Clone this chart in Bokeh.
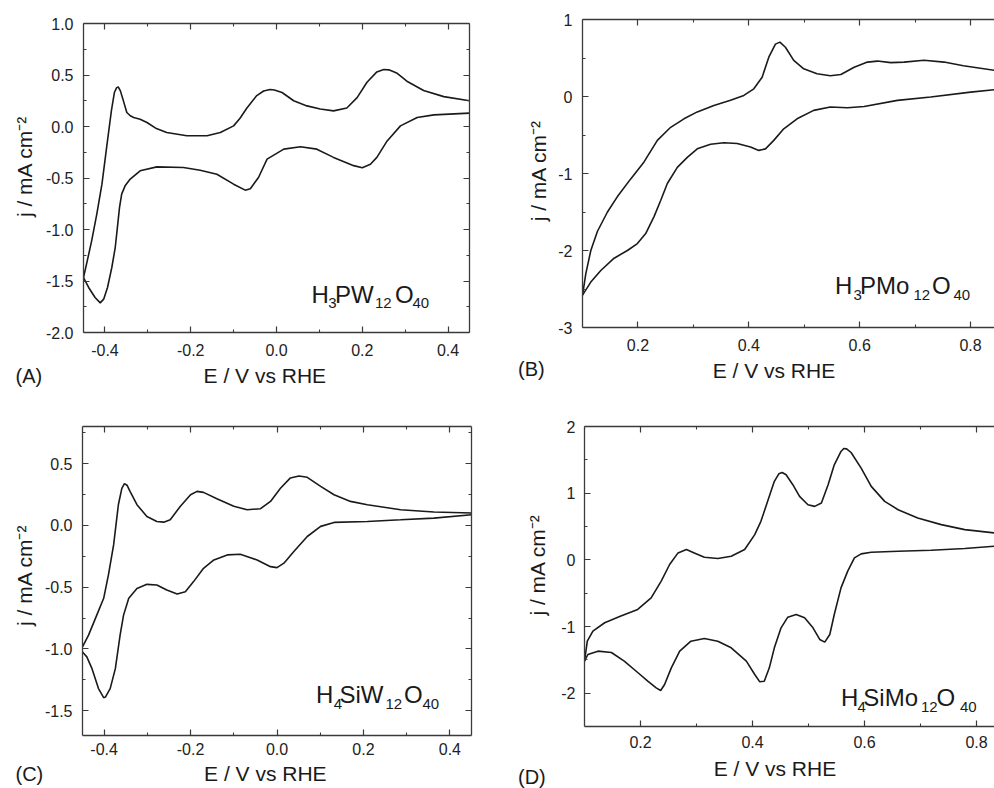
import numpy as np
from bokeh.plotting import figure
from bokeh.models import Label, LinearAxis, FixedTicker, Range1d, Title
from bokeh.layouts import row, column
from bokeh.embed import file_html
from bokeh.resources import INLINE

# ---------------- data ----------------
# (A) H3PW12O40
a_up_E = [-0.450, -0.441, -0.431, -0.419, -0.407, -0.396, -0.385, -0.378, -0.373, -0.369, -0.364,
          -0.357, -0.349, -0.341, -0.333, -0.318, -0.302, -0.280, -0.256, -0.209, -0.162, -0.131,
          -0.100, -0.085, -0.069, -0.046, -0.030, -0.015, -0.005, 0.013, 0.040, 0.071, 0.102,
          0.133, 0.164, 0.188, 0.211, 0.234, 0.250, 0.262, 0.280, 0.304, 0.343, 0.390, 0.450]
a_up_j = [-1.466, -1.30, -1.11, -0.85, -0.56, -0.20, 0.152, 0.33, 0.375, 0.385, 0.346,
          0.249, 0.136, 0.104, 0.087, 0.071, 0.039, -0.02, -0.058, -0.09, -0.09, -0.058,
          0.006, 0.08, 0.18, 0.30, 0.345, 0.36, 0.355, 0.33, 0.25, 0.20, 0.17,
          0.152, 0.18, 0.28, 0.43, 0.53, 0.553, 0.55, 0.52, 0.44, 0.35, 0.29, 0.25]
a_dn_E = [0.450, 0.367, 0.328, 0.289, 0.258, 0.234, 0.219, 0.200, 0.180, 0.133, 0.094, 0.056,
          0.017, -0.022, -0.042, -0.061, -0.073, -0.100, -0.139, -0.178, -0.217, -0.279, -0.318,
          -0.341, -0.353, -0.361, -0.366, -0.371, -0.376, -0.384, -0.394, -0.403, -0.411, -0.423,
          -0.438, -0.450]
a_dn_j = [0.13, 0.113, 0.087, 0.006, -0.14, -0.30, -0.366, -0.40, -0.38, -0.30, -0.22, -0.197,
          -0.22, -0.317, -0.495, -0.605, -0.618, -0.56, -0.463, -0.424, -0.398, -0.392, -0.43,
          -0.51, -0.576, -0.657, -0.786, -0.981, -1.175, -1.369, -1.563, -1.676, -1.712, -1.66,
          -1.563, -1.466]

# (B) H3PMo12O40
b_up_E = [0.100, 0.106, 0.115, 0.127, 0.145, 0.163, 0.187, 0.211, 0.235, 0.259, 0.283, 0.307,
          0.337, 0.367, 0.391, 0.409, 0.424, 0.436, 0.448, 0.456, 0.466, 0.481, 0.499, 0.523,
          0.547, 0.566, 0.590, 0.614, 0.632, 0.656, 0.680, 0.716, 0.752, 0.787, 0.843]
b_up_j = [-2.58, -2.30, -2.00, -1.75, -1.50, -1.30, -1.07, -0.85, -0.57, -0.40, -0.29, -0.20,
          -0.116, -0.05, 0.014, 0.10, 0.25, 0.51, 0.68, 0.706, 0.64, 0.47, 0.36, 0.295,
          0.27, 0.286, 0.38, 0.447, 0.46, 0.44, 0.447, 0.47, 0.447, 0.40, 0.34]
b_dn_E = [0.843, 0.800, 0.728, 0.668, 0.608, 0.578, 0.547, 0.517, 0.487, 0.463, 0.445, 0.430,
          0.418, 0.403, 0.379, 0.355, 0.331, 0.307, 0.289, 0.271, 0.253, 0.241, 0.229, 0.214,
          0.199, 0.181, 0.157, 0.133, 0.115, 0.100]
b_dn_j = [0.088, 0.057, -0.007, -0.05, -0.13, -0.146, -0.137, -0.18, -0.29, -0.42, -0.57, -0.68,
          -0.70, -0.656, -0.61, -0.60, -0.62, -0.68, -0.79, -0.92, -1.13, -1.35, -1.56, -1.78,
          -1.91, -2.00, -2.10, -2.26, -2.41, -2.58]

# (C) H4SiW12O40
c_up_E = [-0.450, -0.436, -0.417, -0.401, -0.390, -0.378, -0.367, -0.359, -0.353, -0.347, -0.340,
          -0.324, -0.301, -0.278, -0.262, -0.247, -0.224, -0.200, -0.185, -0.170, -0.139, -0.100,
          -0.069, -0.038, -0.015, 0.008, 0.031, 0.051, 0.070, 0.101, 0.132, 0.170, 0.209, 0.286,
          0.363, 0.450]
c_up_j = [-0.983, -0.888, -0.726, -0.59, -0.40, -0.158, 0.167, 0.30, 0.338, 0.325, 0.275,
          0.167, 0.072, 0.032, 0.026, 0.045, 0.153, 0.248, 0.275, 0.267, 0.216, 0.154,
          0.127, 0.135, 0.194, 0.30, 0.384, 0.40, 0.389, 0.316, 0.248, 0.194, 0.167, 0.127,
          0.108, 0.10]
c_dn_E = [0.450, 0.363, 0.286, 0.209, 0.132, 0.101, 0.070, 0.039, 0.016, 0.000, -0.015, -0.046,
          -0.085, -0.115, -0.146, -0.170, -0.193, -0.212, -0.231, -0.255, -0.278, -0.301, -0.324,
          -0.343, -0.355, -0.363, -0.374, -0.386, -0.397, -0.401, -0.413, -0.428, -0.440, -0.450]
c_dn_j = [0.086, 0.059, 0.045, 0.032, 0.024, -0.008, -0.09, -0.212, -0.306, -0.342, -0.334, -0.28,
          -0.233, -0.239, -0.28, -0.347, -0.455, -0.537, -0.555, -0.523, -0.482, -0.477, -0.51,
          -0.59, -0.726, -0.888, -1.159, -1.321, -1.389, -1.394, -1.32, -1.159, -1.064, -1.024]

# (D) H4SiMo12O40
d_up_E = [0.100, 0.105, 0.115, 0.136, 0.165, 0.195, 0.219, 0.237, 0.252, 0.267, 0.282, 0.296,
          0.314, 0.338, 0.362, 0.386, 0.404, 0.415, 0.427, 0.439, 0.447, 0.453, 0.460, 0.472,
          0.484, 0.499, 0.511, 0.523, 0.535, 0.546, 0.558, 0.563, 0.568, 0.576, 0.594, 0.612,
          0.636, 0.660, 0.695, 0.737, 0.779, 0.832]
d_up_j = [-1.52, -1.22, -1.07, -0.944, -0.844, -0.744, -0.57, -0.32, -0.07, 0.104, 0.154, 0.104,
          0.039, 0.019, 0.054, 0.154, 0.378, 0.578, 0.877, 1.177, 1.29, 1.31, 1.276, 1.127,
          0.952, 0.827, 0.802, 0.852, 1.127, 1.426, 1.626, 1.67, 1.665, 1.61, 1.376, 1.102,
          0.877, 0.752, 0.628, 0.528, 0.453, 0.403]
d_dn_E = [0.832, 0.779, 0.719, 0.660, 0.612, 0.594, 0.582, 0.570, 0.558, 0.546, 0.538, 0.529,
          0.520, 0.508, 0.493, 0.478, 0.463, 0.451, 0.439, 0.430, 0.421, 0.413, 0.404, 0.389,
          0.362, 0.338, 0.314, 0.290, 0.270, 0.255, 0.243, 0.236, 0.228, 0.213, 0.195, 0.171,
          0.148, 0.124, 0.106, 0.100]
d_dn_j = [0.204, 0.169, 0.144, 0.129, 0.114, 0.089, 0.029, -0.17, -0.42, -0.82, -1.12, -1.234,
          -1.194, -1.02, -0.87, -0.82, -0.86, -1.02, -1.32, -1.62, -1.82, -1.83, -1.72, -1.52,
          -1.32, -1.22, -1.18, -1.22, -1.37, -1.62, -1.87, -1.96, -1.92, -1.82, -1.69, -1.52,
          -1.39, -1.37, -1.42, -1.52]

# tick values and labels
w_x_ticks = [-0.4, -0.2, 0.0, 0.2, 0.4]
w_x_minor = [-0.3, -0.1, 0.1, 0.3]
w_x_labels = ["-0.4", "-0.2", "0.0", "0.2", "0.4"]
mo_x_ticks = [0.2, 0.4, 0.6, 0.8]
mo_x_minor = [0.3, 0.5, 0.7]
mo_x_labels = ["0.2", "0.4", "0.6", "0.8"]
a_y_ticks = [-2.0, -1.5, -1.0, -0.5, 0.0, 0.5, 1.0]
a_y_minor = [-1.75, -1.25, -0.75, -0.25, 0.25, 0.75]
a_y_labels = ["-2.0", "-1.5", "-1.0", "-0.5", "0.0", "0.5", "1.0"]
b_y_ticks = [-3, -2, -1, 0, 1]
b_y_minor = [-2.5, -1.5, -0.5, 0.5]
b_y_labels = ["-3", "-2", "-1", "0", "1"]
c_y_ticks = [-1.5, -1.0, -0.5, 0.0, 0.5]
c_y_minor = [-1.25, -0.75, -0.25, 0.25, 0.75]
c_y_labels = ["-1.5", "-1.0", "-0.5", "0.0", "0.5"]
d_y_ticks = [-2, -1, 0, 1, 2]
d_y_minor = [-1.5, -0.5, 0.5, 1.5]
d_y_labels = ["-2", "-1", "0", "1", "2"]

panel_tags = ["(A)", "(B)", "(C)", "(D)"]
x_title = "E / V vs RHE"
y_title = "j / mA cm\u207b\u00b2"

# ---------------- styling ----------------
FONT = "Liberation Sans"
INK = "#1a1a1a"
AX = "#3a3a3a"
NBSP = "\u00a0"
XAXIS_FIXED = 41.5   # tick-label box + x-title box heights inside the x-axis panel (px)
TAG_ASC = 18.0       # ascent of the 20px panel tag


def style_axis(ax, ticks, minor, labels, standoff):
    ax.ticker = FixedTicker(ticks=ticks, minor_ticks=minor)
    ax.axis_line_color = AX
    ax.axis_line_width = 1.3
    ax.major_tick_line_color = AX
    ax.major_tick_line_width = 1.2
    ax.minor_tick_line_color = AX
    ax.minor_tick_line_width = 1.1
    ax.major_tick_in = 6
    ax.major_tick_out = 0
    ax.minor_tick_in = 3
    ax.minor_tick_out = 0
    if labels is None:
        ax.major_label_overrides = {t: "" for t in ticks}
        ax.major_label_text_font_size = "0px"
        ax.major_label_standoff = 0
    else:
        ax.major_label_overrides = {t: l for t, l in zip(ticks, labels)}
        ax.major_label_text_font = FONT
        ax.major_label_text_font_size = "16px"
        ax.major_label_text_color = "#222222"
        ax.major_label_standoff = standoff


def label_style(ax, text, standoff):
    ax.axis_label = text
    ax.axis_label_text_font = FONT
    ax.axis_label_text_font_size = "21px"
    ax.axis_label_text_font_style = "normal"
    ax.axis_label_text_color = INK
    ax.axis_label_standoff = standoff


W, H = 497, 394

# borders = (left, right, top, bottom); sx/sy tick-label standoffs; xls/yls axis-label standoffs;
# xpad = trailing no-break spaces (shift the centred x title left);
# ypad = leading no-break spaces (shift the centred y title up);
# tag = (x of the panel tag, its baseline)
specs = [
    dict(xr=(-0.45, 0.45), yr=(-2.0, 1.0), borders=(83, 28, 23, 62), origin=(0, 0),
         xt=(w_x_ticks, w_x_minor, w_x_labels), yt=(a_y_ticks, a_y_minor, a_y_labels), right=True,
         sx=11, sy=10, xls=5, yls=7, xpad=4, ypad=4, tag=(15.0, 382.5),
         up=(a_up_E, a_up_j), dn=(a_dn_E, a_dn_j)),
    dict(xr=(0.1, 0.8431), yr=(-3.0, 1.0), borders=(85, 0, 19, 67), origin=(497, 0),
         xt=(mo_x_ticks, mo_x_minor, mo_x_labels), yt=(b_y_ticks, b_y_minor, b_y_labels), right=False,
         sx=11, sy=10, xls=5, yls=5, xpad=5, ypad=1, tag=(517.5, 376.0),
         up=(b_up_E, b_up_j), dn=(b_dn_E, b_dn_j)),
    dict(xr=(-0.45, 0.45), yr=(-1.7, 0.8), borders=(82, 26, 32, 53), origin=(0, 394),
         xt=(w_x_ticks, w_x_minor, w_x_labels), yt=(c_y_ticks, c_y_minor, c_y_labels), right=True,
         sx=7, sy=10, xls=4, yls=6, xpad=4, ypad=2, tag=(15.0, 781.0),
         up=(c_up_E, c_up_j), dn=(c_dn_E, c_dn_j)),
    dict(xr=(0.1, 0.8321), yr=(-2.5, 2.0), borders=(87, 0, 32, 62), origin=(497, 394),
         xt=(mo_x_ticks, mo_x_minor, mo_x_labels), yt=(d_y_ticks, d_y_minor, d_y_labels), right=False,
         sx=9, sy=9, xls=6, yls=9, xpad=5, ypad=4, tag=(517.5, 783.5),
         up=(d_up_E, d_up_j), dn=(d_dn_E, d_dn_j)),
]

# compound formula pieces (text, x in px, is_subscript), main baseline, subscript baseline
compounds = [
    ([("H", 311.0, 0), ("3", 327.7, 1), ("PW", 334.5, 0), ("12", 374.5, 1), ("O", 394.5, 0), ("40", 412.0, 1)], 294.3, 302.5),
    ([("H", 834.5, 0), ("3", 853.0, 1), ("PMo", 859.5, 0), ("12", 913.0, 1), ("O", 931.5, 0), ("40", 953.0, 1)], 285.0, 294.0),
    ([("H", 315.5, 0), ("4", 333.2, 1), ("SiW", 339.0, 0), ("12", 385.0, 1), ("O", 403.5, 0), ("40", 422.0, 1)], 694.0, 703.5),
    ([("H", 840.5, 0), ("4", 857.0, 1), ("SiMo", 862.8, 0), ("12", 920.5, 1), ("O", 936.0, 0), ("40", 959.5, 1)], 697.0, 706.0),
]


def to_data(frame, xr, yr, px, py):
    L, T, R, B = frame
    x = xr[0] + (px - L) / (R - L) * (xr[1] - xr[0])
    y = yr[1] - (py - T) / (B - T) * (yr[1] - yr[0])
    return x, y


figs = []
for i, s in enumerate(specs):
    bl, br, bt_, bb = s["borders"]
    ox, oy = s["origin"]
    frame = (ox + bl, oy + bt_, ox + W - br, oy + H - bb)
    xr, yr = s["xr"], s["yr"]
    p = figure(width=W, height=H, x_range=Range1d(*xr), y_range=Range1d(*yr),
               output_backend="svg", toolbar_location=None, tools="",
               min_border_left=bl, min_border_right=br, min_border_top=bt_, min_border_bottom=bb)
    if "frame_align" in p.properties():
        p.frame_align = False
    p.grid.visible = False
    p.outline_line_color = None
    p.background_fill_color = "white"
    p.border_fill_color = "white"
    xt, yt = s["xt"], s["yt"]
    style_axis(p.xaxis[0], xt[0], xt[1], xt[2], s["sx"])
    style_axis(p.yaxis[0], yt[0], yt[1], yt[2], s["sy"])
    label_style(p.xaxis[0], x_title + NBSP * s["xpad"], s["xls"])
    label_style(p.yaxis[0], NBSP * s["ypad"] + y_title, s["yls"])
    top_ax = LinearAxis()
    style_axis(top_ax, xt[0], xt[1], None, 0)
    p.add_layout(top_ax, "above")
    if s["right"]:
        r_ax = LinearAxis()
        style_axis(r_ax, yt[0], yt[1], None, 0)
        p.add_layout(r_ax, "right")

    p.line(s["up"][0], s["up"][1], line_color=INK, line_width=1.6)
    p.line(s["dn"][0], s["dn"][1], line_color=INK, line_width=1.6)

    # formula label inside the frame
    pieces, base_main, base_sub = compounds[i]
    for txt, px, sub in pieces:
        x, y = to_data(frame, xr, yr, px, base_sub if sub else base_main)
        p.add_layout(Label(x=x, y=y, text=txt, text_font=FONT,
                           text_font_size="15px" if sub else "24px", text_color=INK,
                           text_align="left", text_baseline="alphabetic"))

    # panel tag: a title below the x axis, pulled up onto the x-title line
    tag_x, tag_base = s["tag"]
    panel_top = frame[3] + s["sx"] + s["xls"] + XAXIS_FIXED
    s2 = 2 * (tag_base - TAG_ASC - panel_top)
    p.add_layout(Title(text=panel_tags[i], align="left", vertical_align="top",
                       offset=round(tag_x - frame[0], 1), standoff=round(s2, 1),
                       text_font=FONT, text_font_size="20px", text_font_style="normal",
                       text_color=INK), "below")
    figs.append(p)

layout = column(row(figs[0], figs[1]), row(figs[2], figs[3]))
open("out.html", "w").write(file_html(layout, INLINE))
